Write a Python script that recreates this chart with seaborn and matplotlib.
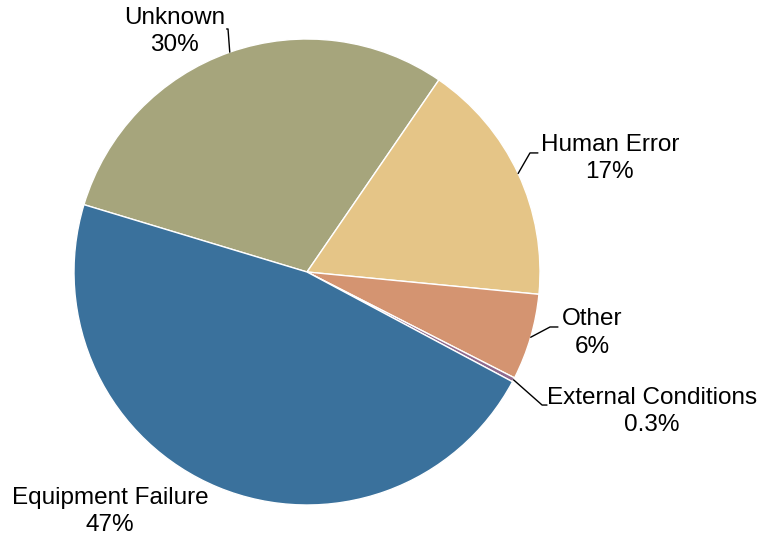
import numpy as np
import matplotlib
matplotlib.use("Agg")
import matplotlib.pyplot as plt
import seaborn as sns

# causes, listed clockwise starting from the top-left edge of "Unknown"
causes = ["Unknown", "Human Error", "Other", "External Conditions", "Equipment Failure"]
shares = [30, 17, 6, 0.3, 47]
colors = ["#a6a57c", "#e5c587", "#d49471", "#8e6a8e", "#3a719c"]

# label block centre, elbow point, line end (data units, pie radius = 1)
label_pos = {
    "Unknown": ((-0.567, 1.034), (-0.339, 1.043), (-0.345, 1.043)),
    "Human Error": ((1.300, 0.489), (0.957, 0.511), (0.991, 0.511)),
    "Other": ((1.223, -0.262), (1.043, -0.236), (1.077, -0.236)),
    "External Conditions": ((1.481, -0.597), (1.009, -0.571), (1.030, -0.571)),
    "Equipment Failure": ((-0.846, -1.026), None, None),
}

sns.set_theme(style="white")
plt.rcParams["font.family"] = ["Liberation Sans", "DejaVu Sans"]

fig = plt.figure(figsize=(7.74, 5.39), dpi=100)
ax = fig.add_axes([0, 0, 1, 1])

wedges, _ = ax.pie(
    shares,
    colors=colors,
    startangle=163.2,
    counterclock=False,
    radius=1,
    wedgeprops=dict(edgecolor="white", linewidth=1),
)

for w, name, val in zip(wedges, causes, shares):
    mid = np.deg2rad((w.theta1 + w.theta2) / 2)
    txt, elbow, end = label_pos[name]
    ax.text(txt[0], txt[1], f"{name}\n{val:g}%", ha="center", va="center",
            multialignment="center", fontsize=17.5, color="black", linespacing=1.3)
    if elbow is not None:
        ax.plot([np.cos(mid), elbow[0], end[0]], [np.sin(mid), elbow[1], end[1]],
                color="black", linewidth=1)

ax.set_aspect("auto")
ax.set_xlim(-307 / 233, (774 - 307) / 233)
ax.set_ylim(-(539 - 272) / 233, 272 / 233)
ax.axis("off")

fig.savefig("out.png", dpi=100)
